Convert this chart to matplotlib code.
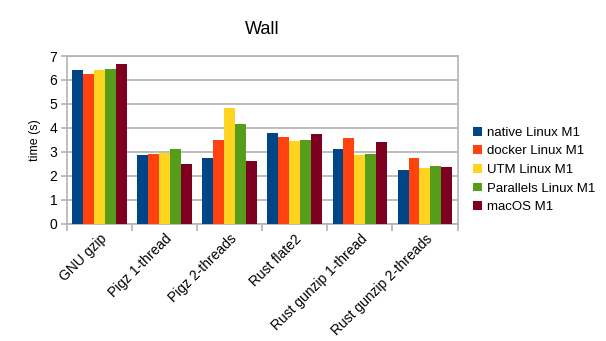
import matplotlib
matplotlib.use("Agg")
import matplotlib.pyplot as plt
import numpy as np

plt.rcParams['font.family'] = ['Liberation Sans', 'DejaVu Sans']

categories = ["GNU gzip", "Pigz 1-thread", "Pigz 2-threads", "Rust flate2",
              "Rust gunzip 1-thread", "Rust gunzip 2-threads"]
series_names = ["native Linux M1", "docker Linux M1", "UTM Linux M1",
                "Parallels Linux M1", "macOS M1"]
native = [6.42, 2.86, 2.73, 3.78, 3.11, 2.23]
docker = [6.25, 2.90, 3.49, 3.61, 3.57, 2.73]
utm = [6.42, 2.94, 4.83, 3.44, 2.86, 2.32]
parallels = [6.46, 3.11, 4.16, 3.49, 2.90, 2.40]
macos = [6.67, 2.48, 2.61, 3.74, 3.40, 2.36]
colors = ["#004586", "#ff420e", "#ffd320", "#579d1c", "#7e0021"]

W, H = 606, 341
fig = plt.figure(figsize=(W / 100, H / 100), dpi=100)
ax = fig.add_axes([67 / W, 1 - 223.5 / H, (457.5 - 67) / W, (223.5 - 56) / H])

data = [native, docker, utm, parallels, macos]
x = np.arange(len(categories))
bw = 0.168
for i, (vals, name, c) in enumerate(zip(data, series_names, colors)):
    ax.bar(x + (i - 2) * bw, vals, bw, color=c, label=name, zorder=3)

ax.set_xlim(-0.5, len(categories) - 0.5)
ax.set_ylim(0, 7)
ax.set_yticks(range(0, 8))
ax.yaxis.grid(True, color="#b3b3b3", linewidth=1.2, zorder=0)
for s in ax.spines.values():
    s.set_color("#b3b3b3")
    s.set_linewidth(1.2)

ax.set_xticks(np.arange(-0.5, len(categories)), minor=False)
ax.set_xticklabels([])
ax.set_xticks(x, minor=True)
ax.set_xticklabels(categories, minor=True, rotation=45, ha="right",
                   rotation_mode="anchor", fontsize=10)
ax.tick_params(axis="x", which="minor", length=0, pad=6)
ax.tick_params(axis="x", which="major", length=5, color="#b3b3b3", width=1.2)
ax.tick_params(axis="y", length=4, color="#b3b3b3", width=1.2, labelsize=10, pad=3)
ax.set_ylabel("time (s)", fontsize=9, labelpad=6)
ax.set_title("Wall", fontsize=13, pad=16)

ax.legend(loc="center left", bbox_to_anchor=(473 / W, 1 - 170 / H),
          bbox_transform=fig.transFigure, frameon=False, fontsize=9.5,
          handlelength=0.65, handleheight=0.65, handletextpad=0.4,
          labelspacing=0.5, borderaxespad=0, borderpad=0)

fig.savefig("out.png", dpi=100)
